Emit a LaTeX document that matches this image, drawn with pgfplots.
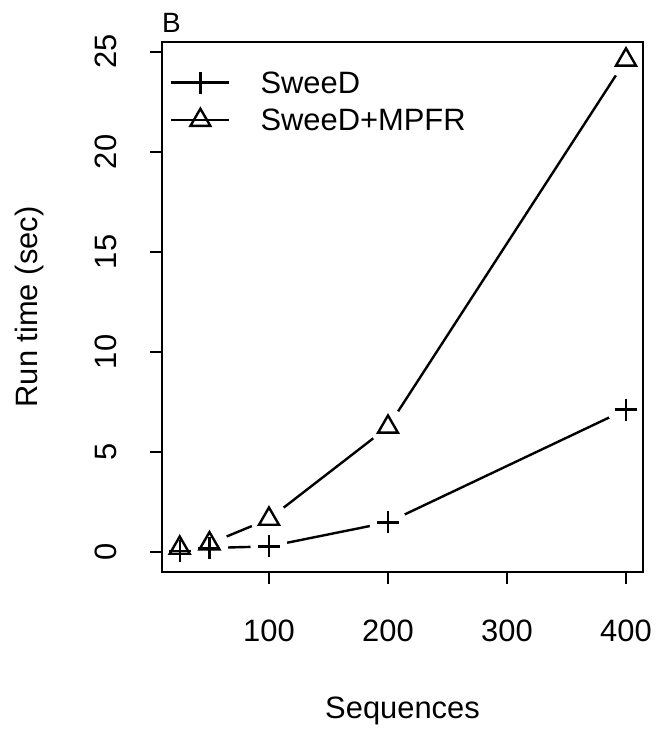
\documentclass[border=0pt]{standalone}
\usepackage{fontspec}
\setmainfont{Liberation Sans}
\usepackage{pgfplots}
\pgfplotsset{compat=1.18}

\begin{document}
\begin{tikzpicture}
\useasboundingbox (-162bp,-158bp) rectangle (494bp,572bp);
\begin{axis}[
    at={(0,0)}, anchor=south west,
    width=481bp, height=530bp, scale only axis,
    xmin=10.1, xmax=414.3,
    ymin=-1.0, ymax=25.49,
    xtick={100,200,300,400},
    ytick={0,5,10,15,20,25},
    tick pos=left, tick align=outside,
    major tick length=12bp,
    every tick/.style={black, line width=2.4bp},
    axis line style={line width=2.4bp},
    axis on top, clip marker paths=true,
    /pgf/number format/assume math mode=true,
    ticklabel style={font=\fontsize{31}{37}\selectfont},
    xticklabel style={anchor=base, yshift=-57bp},
    yticklabel style={xshift=-33bp, rotate=90, anchor=base},
    xlabel={Sequences},
    ylabel={Run time (sec)},
    label style={font=\fontsize{31}{37}\selectfont},
    xlabel style={at={(axis description cs:0.5,-0.2755)}, anchor=base},
    ylabel style={at={(axis description cs:-0.2578,0.5)}, anchor=base},
    legend style={at={(axis description cs:0,1)}, anchor=north west,
        xshift=8bp, yshift=-29.5bp, draw=none, fill=none, inner sep=0pt,
        font=\fontsize{31}{37}\selectfont, row sep=9.5bp,
        nodes={inner sep=0pt, text height=21bp, text depth=6bp},
        /tikz/every odd column/.append style={column sep=30bp}},
    legend cell align=left,
    legend image code/.code={
        \draw[#1, sharp plot, mark repeat=2, mark phase=2]
        plot coordinates {(0bp,3bp) (29bp,3bp) (58bp,3bp)};},
    every axis plot/.append style={black, line width=2.4bp},
]
% connecting lines
\addplot[forget plot] coordinates {
    (25,0.05) (50,0.2) (100,0.28) (200,1.48) (400,7.12)
};
\addplot[forget plot] coordinates {
    (25,0.2) (50,0.42) (100,1.65) (200,6.25) (400,24.6)
};
% gaps around the points (type = "b")
\addplot[forget plot, only marks, mark=*, mark size=18bp, color=white,
    mark options={fill=white, draw=white, line width=1bp}] coordinates {
    (25,0.05) (50,0.2) (100,0.28) (200,1.48) (400,7.12)
};
\addplot[forget plot, only marks, mark=*, mark size=18bp, color=white,
    mark options={fill=white, draw=white, line width=1bp}] coordinates {
    (25,0.2) (50,0.42) (100,1.65) (200,6.25) (400,24.6)
};
% points
\addplot[only marks, mark=+, mark size=11bp] coordinates {
    (25,0.05) (50,0.2) (100,0.28) (200,1.48) (400,7.12)
};
\addlegendentry{SweeD}
\addplot[only marks, mark=triangle, mark size=11.5bp] coordinates {
    (25,0.2) (50,0.42) (100,1.65) (200,6.25) (400,24.6)
};
\addlegendentry{SweeD+MPFR}
\end{axis}
\node[anchor=base west, inner sep=0pt, font=\fontsize{28}{33}\selectfont]
    at (0bp,539bp) {B};
\end{tikzpicture}
\end{document}
